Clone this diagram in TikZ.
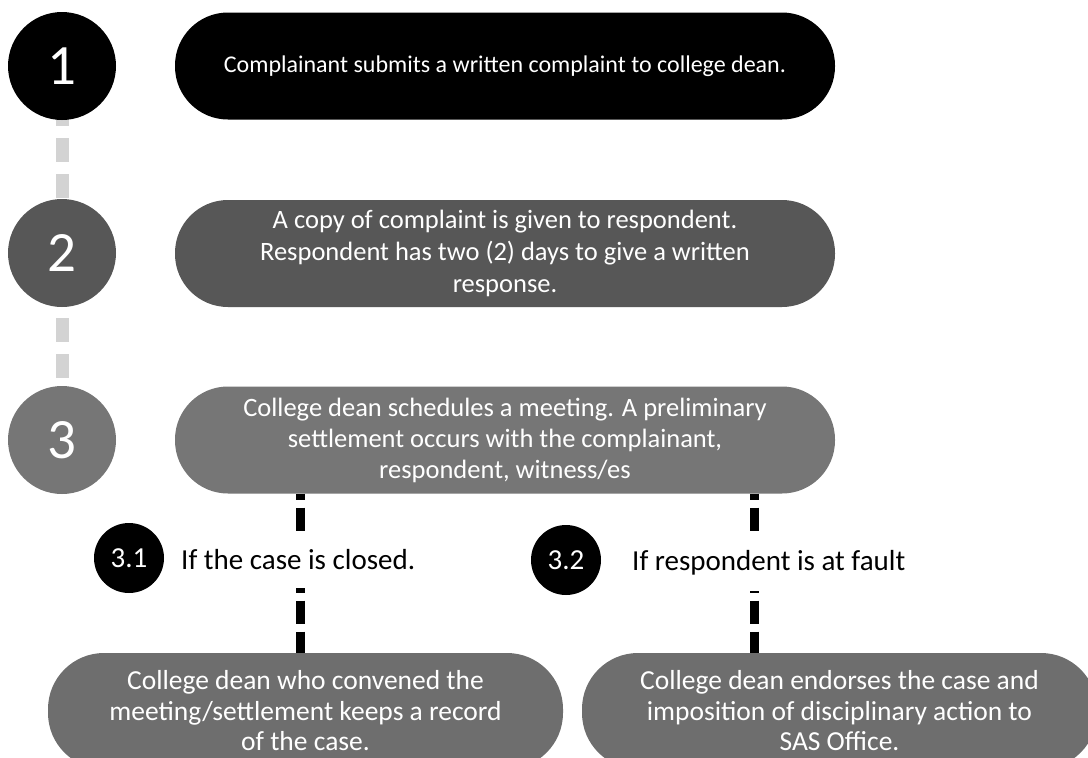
\documentclass[tikz,border=0pt]{standalone}
\usepackage{fontspec}
\setmainfont{Carlito}
\usetikzlibrary{backgrounds}
\definecolor{cB}{HTML}{575757}
\definecolor{cC}{HTML}{767676}
\definecolor{cD}{HTML}{6E6E6E}
\definecolor{cDash}{HTML}{D3D3D3}
\begin{document}
\begin{tikzpicture}[x=1pt,y=-1pt,
  pill/.style={rectangle, rounded corners=53pt, minimum width=660pt, minimum height=107pt, text=white, align=center, inner sep=0pt},
  lowpill/.style={rectangle, rounded corners=56pt, fill=cD, minimum width=515pt, minimum height=116pt, text=white, align=center, inner sep=0pt, font=\fontsize{27.5}{30.5}\selectfont},
  num/.style={circle, minimum size=108pt, inner sep=0pt, text=white, font=\fontsize{57}{57}\selectfont},
  subnum/.style={circle, minimum size=70pt, inner sep=0pt, fill=black, text=white, font=\fontsize{29}{29}\selectfont},
  greydash/.style={line width=13pt, draw=cDash, dash pattern=on 24pt off 12pt},
  blackdash/.style={line width=9pt, draw=black, dash pattern=on 23pt off 8pt},
  cond/.style={fill=white, text=black, inner sep=0pt, minimum height=56pt, anchor=west, font=\fontsize{29}{34}\selectfont}
]
\useasboundingbox (0,0) rectangle (1088,758);
\clip (0,0) rectangle (1088,758);

% step circles
\node[num, fill=black] (c1) at (62,66) {1};
\node[num, fill=cB] (c2) at (62,253) {2};
\node[num, fill=cC] (c3) at (62,440) {3};

% step pills
\node[pill, fill=black, font=\fontsize{24}{30}\selectfont] (p1) at (505,66)
  {Complainant submits a written complaint to college dean.};
\node[pill, fill=cB, font=\fontsize{26.5}{32}\selectfont] (p2) at (505,253.5)
  {A copy of complaint is given to respondent.\\Respondent has two (2) days to give a written\\response.};
\node[pill, fill=cC, font=\fontsize{26.5}{31}\selectfont] (p3) at (505,440)
  {College dean schedules a meeting. A preliminary\\settlement occurs with the complainant,\\respondent, witness/es};

% outcome pills
\node[lowpill] (pL) at (305.5,711)
  {College dean who convened the\\meeting/settlement keeps a record\\of the case.};
\node[lowpill] (pR) at (839.5,711)
  {College dean endorses the case and\\imposition of disciplinary action to\\SAS Office.};

\coordinate (xL) at (300,0);
\coordinate (xR) at (754,0);

\begin{scope}[on background layer]
  \fill[white] (0,0) rectangle (1088,758);
  \draw[greydash] (c1.center) -- (c2.center);
  \draw[greydash, dash phase=7pt] (c2.center) -- (c3.center);
\end{scope}

\draw[blackdash, dash phase=17pt] (p3.south -| xL) -- (pL.north -| xL);
\draw[blackdash, dash phase=17pt] (p3.south -| xR) -- (pR.north -| xR);

% branch labels
\node[subnum] (s31) at (129,558) {3.1};
\node[cond] (l31) at (181,560) {If the case is closed.};
\node[subnum] (s32) at (566,560) {3.2};
\node[cond] (l32) at (632,563) {If respondent is at fault};
\end{tikzpicture}
\end{document}
